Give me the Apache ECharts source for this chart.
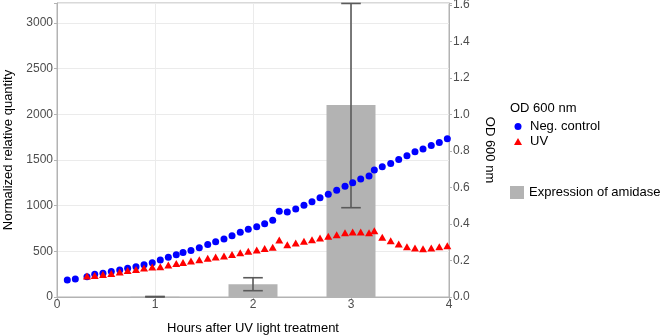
<!DOCTYPE html>
<html>
<head>
<meta charset="utf-8">
<script src="https://cdn.jsdelivr.net/npm/echarts@6/dist/echarts.min.js"></script>
<style>
html,body{margin:0;padding:0;background:#fff;}
#c{width:669px;height:335px;}
</style>
</head>
<body>
<div id="c"></div>
<script>
// Sampling times (hours after UV light treatment)
const hours = [0.105, 0.187, 0.306, 0.385, 0.469, 0.554, 0.640, 0.721, 0.806, 0.888, 0.972, 1.054,
  1.136, 1.217, 1.286, 1.367, 1.452, 1.538, 1.619, 1.704, 1.786, 1.870, 1.952, 2.038,
  2.119, 2.201, 2.268, 2.350, 2.436, 2.520, 2.602, 2.684, 2.768, 2.854, 2.939, 3.017,
  3.099, 3.184, 3.238, 3.319, 3.405, 3.487, 3.571, 3.653, 3.735, 3.819, 3.901, 3.983];
// OD 600 nm, negative control
const negControl = [0.093, 0.099, 0.111, 0.124, 0.130, 0.139, 0.148, 0.157, 0.166, 0.177, 0.188, 0.203,
  0.217, 0.231, 0.244, 0.255, 0.270, 0.288, 0.303, 0.318, 0.336, 0.354, 0.371, 0.385,
  0.401, 0.420, 0.469, 0.465, 0.482, 0.502, 0.522, 0.543, 0.562, 0.584, 0.607, 0.626,
  0.646, 0.663, 0.695, 0.713, 0.731, 0.753, 0.773, 0.795, 0.811, 0.830, 0.846, 0.866];
// OD 600 nm, UV treated
const uv = [null, null, 0.115, 0.118, 0.123, 0.129, 0.137, 0.145, 0.151, 0.159, 0.164, 0.166,
  0.175, 0.184, 0.189, 0.197, 0.204, 0.212, 0.219, 0.224, 0.233, 0.242, 0.250, 0.257,
  0.265, 0.272, 0.312, 0.286, 0.296, 0.305, 0.314, 0.323, 0.332, 0.341, 0.352, 0.356,
  0.356, 0.352, 0.363, 0.327, 0.308, 0.290, 0.275, 0.268, 0.264, 0.268, 0.275, 0.281];
// Expression of amidase (normalized relative quantity)
const barHours = [1, 2, 3];
const amidase = [3, 139, 2102];
const amidaseLow = [0, 69, 978];
const amidaseHigh = [6, 211, 3215];
// Tick values
const xTicks = [0, 1, 2, 3, 4];
const leftTicks = [0, 500, 1000, 1500, 2000, 2500, 3000];
const rightTicks = [0.0, 0.2, 0.4, 0.6, 0.8, 1.0, 1.2, 1.4, 1.6];

const FONT = "'Liberation Sans', Arial, sans-serif";
const GREY = '#b3b3b3';
const LABEL = '#4d4d4d';

const negData = hours.map((t, i) => [t, negControl[i]]);
const uvData = hours.map((t, i) => [t, uv[i]]).filter(d => d[1] !== null);
const barData = barHours.map((h, i) => [h, amidase[i]]);
const errData = barHours.map((h, i) => [h, amidaseLow[i], amidaseHigh[i]]);

const chart = echarts.init(document.getElementById('c'), null, {renderer: 'canvas'});
chart.setOption({
  animation: false,
  backgroundColor: '#fff',
  textStyle: {fontFamily: FONT},
  title: [{
    text: 'OD 600 nm', left: 510, top: 102, padding: 0,
    textStyle: {fontFamily: FONT, fontSize: 13, fontWeight: 'normal', color: '#000'}
  }],
  legend: [{
    data: [{name: 'Neg. control', icon: 'circle'}, {name: 'UV', icon: 'triangle'}],
    orient: 'vertical', left: 514, top: 120, padding: 0,
    itemWidth: 8, itemHeight: 7, itemGap: 2,
    textStyle: {fontFamily: FONT, fontSize: 13, color: '#000', padding: [0, 0, 0, 3]}
  }, {
    data: [{name: 'Expression of amidase', icon: 'rect'}],
    orient: 'vertical', left: 510, top: 186, padding: 0,
    itemWidth: 14, itemHeight: 13,
    textStyle: {fontFamily: FONT, fontSize: 13, color: '#000'}
  }],
  grid: {left: 57, right: 220, top: 3, bottom: 38, show: true, borderColor: GREY, borderWidth: 1,
    containLabel: false, outerBoundsMode: 'none'},
  xAxis: {
    type: 'value', min: 0, max: 4, interval: 1,
    name: 'Hours after UV light treatment', nameLocation: 'middle', nameGap: 25,
    nameTextStyle: {fontFamily: FONT, fontSize: 13, color: '#000'},
    axisLine: {show: true, lineStyle: {color: GREY}},
    axisTick: {show: true, length: 3, lineStyle: {color: GREY}},
    axisLabel: {fontFamily: FONT, fontSize: 12, color: LABEL, margin: 2,
      formatter: v => xTicks.includes(v) ? String(v) : ''},
    splitLine: {show: true, lineStyle: {color: '#ebebeb', width: 1}}
  },
  yAxis: [{
    type: 'value', min: 0, max: 3220, interval: 500, position: 'left',
    name: 'Normalized relative quantity', nameLocation: 'middle', nameGap: 37,
    nameTextStyle: {fontFamily: FONT, fontSize: 13, color: '#000'},
    axisLine: {show: true, lineStyle: {color: GREY}},
    axisTick: {show: true, length: 3, lineStyle: {color: GREY}},
    axisLabel: {fontFamily: FONT, fontSize: 12, color: LABEL, margin: 4,
      formatter: v => leftTicks.includes(v) ? String(v) : ''},
    splitLine: {show: true, lineStyle: {color: '#ebebeb', width: 1}}
  }, {
    type: 'value', min: 0, max: 1.61, interval: 0.2, position: 'right',
    name: 'OD 600 nm', nameLocation: 'middle', nameGap: 34, nameRotate: -90,
    nameTextStyle: {fontFamily: FONT, fontSize: 13, color: '#000'},
    axisLine: {show: true, lineStyle: {color: GREY}},
    axisTick: {show: true, length: 3, lineStyle: {color: GREY}},
    axisLabel: {fontFamily: FONT, fontSize: 12, color: LABEL, margin: 4,
      formatter: v => rightTicks.some(r => Math.abs(r - v) < 1e-6) ? v.toFixed(1) : ''},
    splitLine: {show: false}
  }],
  series: [{
    name: 'Expression of amidase', type: 'custom', xAxisIndex: 0, yAxisIndex: 0,
    itemStyle: {color: GREY}, z: 1, silent: true,
    data: barData,
    renderItem: (params, api) => {
      const x = api.value(0), v = api.value(1);
      const p0 = api.coord([x - 0.25, v]);
      const p1 = api.coord([x + 0.25, 0]);
      return {type: 'rect', shape: {x: p0[0], y: p0[1], width: p1[0] - p0[0], height: p1[1] - p0[1]},
        style: {fill: GREY}};
    }
  }, {
    name: 'err', type: 'custom', xAxisIndex: 0, yAxisIndex: 0, z: 2, silent: true,
    data: errData,
    renderItem: (params, api) => {
      const x = api.value(0);
      const lo = api.coord([x, api.value(1)]);
      const hi = api.coord([x, api.value(2)]);
      const l1 = api.coord([x - 0.1, api.value(1)]);
      const r1 = api.coord([x + 0.1, api.value(1)]);
      const l2 = api.coord([x - 0.1, api.value(2)]);
      const r2 = api.coord([x + 0.1, api.value(2)]);
      const st = {stroke: '#5a5a5a', lineWidth: 1.6};
      return {type: 'group', children: [
        {type: 'line', shape: {x1: lo[0], y1: lo[1], x2: hi[0], y2: hi[1]}, style: st},
        {type: 'line', shape: {x1: l1[0], y1: l1[1], x2: r1[0], y2: r1[1]}, style: st},
        {type: 'line', shape: {x1: l2[0], y1: l2[1], x2: r2[0], y2: r2[1]}, style: st}
      ]};
    }
  }, {
    name: 'Neg. control', type: 'scatter', xAxisIndex: 0, yAxisIndex: 1, z: 3,
    symbol: 'circle', symbolSize: 7, itemStyle: {color: '#0000ff', opacity: 1},
    data: negData
  }, {
    name: 'UV', type: 'scatter', xAxisIndex: 0, yAxisIndex: 1, z: 4,
    symbol: 'triangle', symbolSize: [8, 7], itemStyle: {color: '#ff0000', opacity: 1},
    data: uvData
  }]
});
</script>
</body>
</html>
